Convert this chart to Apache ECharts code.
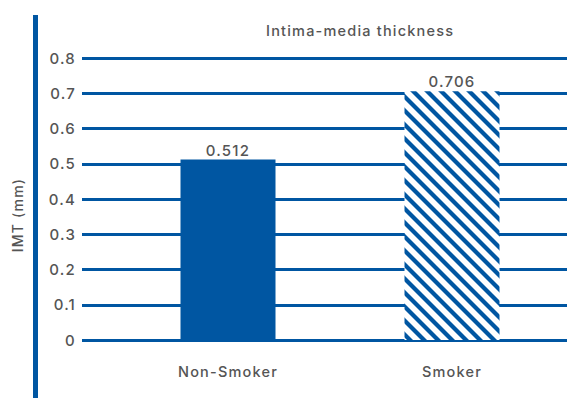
<!DOCTYPE html>
<html>
<head>
<meta charset="utf-8">
<style>
  html, body { margin: 0; padding: 0; background: #ffffff; }
  #chart { width: 567px; height: 398px; }
  #chart svg text { letter-spacing: 1.2px; }
</style>
<script src="https://cdn.jsdelivr.net/npm/echarts@6/dist/echarts.min.js"></script>
</head>
<body>
<div id="chart"></div>
<script>
// Mean intima-media thickness by smoking status
const categories = ['Non-Smoker', 'Smoker'];
const imtValues = [0.512, 0.706];
const yTicks = [0, 0.1, 0.2, 0.3, 0.4, 0.5, 0.6, 0.7, 0.8];

const BLUE = '#0056a2';
const TEXT = '#555555';
const FONT = 'Inter, "Noto Sans", sans-serif';

// Diagonal stripe tile for the smoker bar
function stripePattern() {
  const s = 14;
  const c = document.createElement('canvas');
  c.width = s; c.height = s;
  const ctx = c.getContext('2d');
  ctx.fillStyle = '#ffffff';
  ctx.fillRect(0, 0, s, s);
  ctx.strokeStyle = BLUE;
  ctx.lineWidth = 4.2;
  for (const off of [-s, 0, s]) {
    ctx.beginPath();
    ctx.moveTo(off - 2, -2);
    ctx.lineTo(off + s + 2, s + 2);
    ctx.stroke();
  }
  return c.toDataURL();
}

const chart = echarts.init(document.getElementById('chart'), null, { renderer: 'svg' });

const yMin = yTicks[0], yMax = yTicks[yTicks.length - 1];
const yStep = +(yTicks[1] - yTicks[0]).toFixed(2);

chart.setOption({
  animation: false,
  title: {
    text: 'Intima-media thickness',
    left: 261,
    top: 18,
    textStyle: { color: TEXT, fontSize: 14.5, fontWeight: 500, fontFamily: FONT }
  },
  graphic: [{
    type: 'rect',
    shape: { x: 33, y: 15, width: 5, height: 400 },
    style: { fill: BLUE }
  }, {
    type: 'text',
    x: 17, y: 215,
    rotation: Math.PI / 2,
    style: {
      text: 'IMT (mm)',
      fill: TEXT,
      font: '500 14px ' + FONT,
      align: 'center',
      verticalAlign: 'middle'
    }
  }],
  grid: [
    { left: 82, right: 0, top: 58, bottom: 58 },
    { left: 116, right: 3, top: 58, bottom: 58 }
  ],
  xAxis: [{
    type: 'category', gridIndex: 0, data: categories, show: false
  }, {
    type: 'category', gridIndex: 1, data: categories,
    axisLine: { show: false }, axisTick: { show: false },
    axisLabel: { color: TEXT, fontSize: 14.5, fontWeight: 500, fontFamily: FONT, margin: 24 }
  }],
  yAxis: [{
    type: 'value', gridIndex: 0, min: yMin, max: yMax, interval: yStep,
    axisLine: { show: false }, axisTick: { show: false },
    axisLabel: {
      color: TEXT, fontSize: 15, fontWeight: 500, fontFamily: FONT, margin: 6,
      formatter: v => String(+v.toFixed(1))
    },
    splitLine: { lineStyle: { color: BLUE, width: 3 } }
  }, {
    type: 'value', gridIndex: 1, min: yMin, max: yMax, interval: yStep, show: false
  }],
  series: [{
    type: 'bar',
    xAxisIndex: 1, yAxisIndex: 1,
    barWidth: 95,
    data: imtValues.map((v, i) => ({
      value: v,
      itemStyle: {
        color: i === 0 ? BLUE : { image: stripePattern(), repeat: 'repeat' }
      }
    })),
    label: {
      show: true, position: 'top', distance: 2,
      color: TEXT, fontSize: 15, fontWeight: 500, fontFamily: FONT,
      formatter: p => p.value.toFixed(3)
    }
  }]
});
</script>
</body>
</html>
